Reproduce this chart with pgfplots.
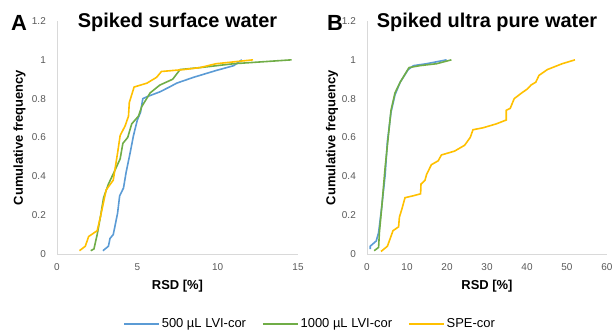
\documentclass[border=0pt]{standalone}
\usepackage{fontspec}
\setmainfont{Liberation Sans}
\usepackage{pgfplots}
\pgfplotsset{compat=1.18}
\definecolor{cblue}{HTML}{5B9BD5}
\definecolor{cgreen}{HTML}{70AD47}
\definecolor{corange}{HTML}{FFC000}
\definecolor{axgray}{HTML}{D9D9D9}
\definecolor{tickgray}{HTML}{595959}
\pgfplotsset{
 mystyle/.style={
  scale only axis, width=241bp, height=233bp,
  axis x line=bottom, axis y line=left,
  axis line style={axgray, line width=1bp, -},
  ymin=0, ymax=1.2, ytick={0,0.2,0.4,0.6,0.8,1,1.2},
  major tick length=0pt,
  tick label style={font=\fontsize{10}{12}\selectfont, text=tickgray},
  /pgf/number format/assume math mode=true,
  yticklabel style={inner sep=0pt, xshift=-11bp},
  xticklabel style={inner sep=0pt, yshift=-9bp},
  label style={font=\bfseries\fontsize{13}{15}\selectfont},
  xlabel style={at={(axis description cs:0.5,0)}, anchor=center, yshift=-32bp},
  title style={font=\bfseries\fontsize{20}{24}\selectfont, at={(axis description cs:0.5,1)}, anchor=base, yshift=-12bp},
  every axis plot/.append style={line width=1.6bp, no marks},
  clip=false,
 }
}
\begin{document}
\begin{tikzpicture}
\path[use as bounding box] (0,0) rectangle (614bp,-331bp);
\begin{axis}[mystyle, at={(57bp,-254bp)}, anchor=south west,
  xmin=0, xmax=15, xtick={0,5,10,15},
  title={Spiked surface water}, xlabel={RSD [\%]}, ylabel={Cumulative frequency},
  ylabel style={at={(axis description cs:-0.155,0.5)}, anchor=center},
  legend style={at={(axis description cs:1.05,-0.30)}, anchor=center, draw=none, fill=none,
    legend columns=3, font=\fontsize{13}{15}\selectfont,
    /tikz/every even column/.append style={column sep=14bp}},
  legend image code/.code={\draw[#1] (0bp,0bp) -- (35bp,0bp);},
]
\addplot[cblue] coordinates {(2.86,0.017)(3.2,0.04)(3.3,0.08)(3.5,0.10)(3.6,0.14)(3.77,0.21)(3.9,0.30)(4.14,0.34)(4.3,0.42)(4.55,0.52)(4.76,0.61)(5.0,0.69)(5.2,0.73)(5.34,0.80)(5.6,0.81)(6.4,0.835)(7.0,0.86)(7.45,0.88)(8.5,0.91)(9.9,0.945)(11.0,0.97)(11.5,1.0)};
\addlegendentry{500 µL LVI-cor}
\addplot[cgreen] coordinates {(2.1,0.017)(2.3,0.026)(2.5,0.10)(2.7,0.19)(2.9,0.29)(3.2,0.36)(3.6,0.43)(3.93,0.49)(4.1,0.57)(4.4,0.60)(4.65,0.67)(5.07,0.71)(5.28,0.76)(5.8,0.83)(6.4,0.87)(7.2,0.90)(7.66,0.95)(8.9,0.96)(11.0,0.98)(14.6,1.0)};
\addlegendentry{1000 µL LVI-cor}
\addplot[corange] coordinates {(1.4,0.017)(1.76,0.04)(1.97,0.09)(2.5,0.12)(2.7,0.19)(3.06,0.33)(3.5,0.38)(3.77,0.52)(3.93,0.61)(4.24,0.66)(4.45,0.71)(4.5,0.78)(4.8,0.86)(5.6,0.88)(6.2,0.91)(6.5,0.94)(7.9,0.95)(8.9,0.96)(9.9,0.98)(12.2,1.0)};
\addlegendentry{SPE-cor}
\end{axis}
\begin{axis}[mystyle, at={(367bp,-254bp)}, anchor=south west,
  width=240bp,
  xmin=0, xmax=60, xtick={0,10,20,30,40,50,60},
  title={Spiked ultra pure water}, xlabel={RSD [\%]}, ylabel={Cumulative frequency},
  ylabel style={at={(axis description cs:-0.146,0.5)}, anchor=center},
]
\addplot[cblue] coordinates {(0.8,0.025)(0.8,0.04)(2.3,0.067)(2.9,0.11)(3.7,0.245)(4.55,0.41)(5.1,0.58)(6.0,0.73)(7.0,0.82)(8.3,0.885)(10.3,0.95)(11.6,0.97)(14.9,0.98)(19.9,1.0)};
\addplot[cgreen] coordinates {(1.8,0.017)(2.9,0.034)(3.1,0.11)(3.7,0.245)(4.55,0.45)(5.4,0.62)(6.0,0.74)(7.0,0.83)(8.3,0.885)(10.5,0.96)(13.2,0.97)(17.4,0.98)(21.1,1.0)};
\addplot[corange] coordinates {(3.5,0.013)(5.1,0.04)(6.5,0.12)(7.9,0.14)(8.1,0.19)(8.7,0.23)(9.5,0.29)(11.6,0.30)(13.4,0.31)(13.5,0.36)(14.5,0.38)(14.9,0.41)(16.1,0.46)(17.8,0.48)(18.6,0.51)(21.9,0.53)(24.4,0.56)(25.8,0.60)(26.5,0.64)(29,0.65)(32.3,0.67)(34.8,0.69)(34.8,0.74)(35.8,0.75)(36.8,0.80)(38.7,0.83)(40.1,0.85)(41.0,0.87)(42.2,0.885)(43.0,0.92)(45.1,0.95)(48.8,0.98)(52.0,1.0)};
\end{axis}
\node[anchor=base west, font=\bfseries\fontsize{22}{26}\selectfont, inner sep=0pt] at (11bp,-30bp) {A};
\node[anchor=base west, font=\bfseries\fontsize{22}{26}\selectfont, inner sep=0pt] at (327bp,-30bp) {B};
\end{tikzpicture}
\end{document}
